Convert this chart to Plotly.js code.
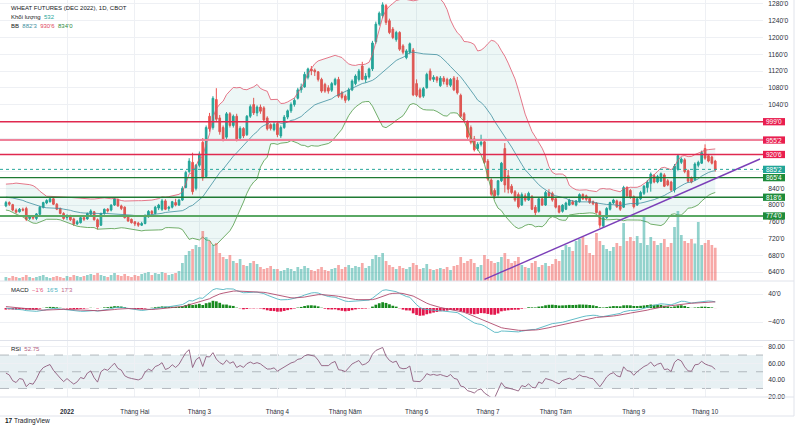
<!DOCTYPE html>
<html><head><meta charset="utf-8">
<script src="https://cdn.plot.ly/plotly-3.0.1.min.js"></script>
<style>html,body{margin:0;padding:0;background:#fff;}#chart{width:801px;height:429px;}</style>
</head><body><div id="chart"></div>
<script>
// closes before the first visible bar (Oct 1 - Dec 6 2021), only used to prime the indicators
const warmCloses = [765,770,768,775,772,778,770,765,772,780,785,782,790,788,795,792,798,795,800,797,803,
  800,805,798,806,812,808,815,820,818,825,830,836,828,832,838,845,840,832,815,808,800,
  795,802,796,800];

const dates = [
 '2021-12-07','2021-12-08','2021-12-09','2021-12-10','2021-12-13','2021-12-14','2021-12-15','2021-12-16','2021-12-17','2021-12-20','2021-12-21','2021-12-22','2021-12-23','2021-12-27','2021-12-28','2021-12-29','2021-12-30','2021-12-31',
 '2022-01-03','2022-01-04','2022-01-05','2022-01-06','2022-01-07','2022-01-10','2022-01-11','2022-01-12','2022-01-13','2022-01-14','2022-01-18','2022-01-19','2022-01-20','2022-01-21','2022-01-24','2022-01-25','2022-01-26','2022-01-27','2022-01-28','2022-01-31',
 '2022-02-01','2022-02-02','2022-02-03','2022-02-04','2022-02-07','2022-02-08','2022-02-09','2022-02-10','2022-02-11','2022-02-14','2022-02-15','2022-02-16','2022-02-17','2022-02-18','2022-02-22','2022-02-23','2022-02-24','2022-02-25','2022-02-28',
 '2022-03-01','2022-03-02','2022-03-03','2022-03-04','2022-03-07','2022-03-08','2022-03-09','2022-03-10','2022-03-11','2022-03-14','2022-03-15','2022-03-16','2022-03-17','2022-03-18','2022-03-21','2022-03-22','2022-03-23','2022-03-24','2022-03-25','2022-03-28','2022-03-29','2022-03-30','2022-03-31',
 '2022-04-01','2022-04-04','2022-04-05','2022-04-06','2022-04-07','2022-04-08','2022-04-11','2022-04-12','2022-04-13','2022-04-14','2022-04-18','2022-04-19','2022-04-20','2022-04-21','2022-04-22','2022-04-25','2022-04-26','2022-04-27','2022-04-28','2022-04-29',
 '2022-05-02','2022-05-03','2022-05-04','2022-05-05','2022-05-06','2022-05-09','2022-05-10','2022-05-11','2022-05-12','2022-05-13','2022-05-16','2022-05-17','2022-05-18','2022-05-19','2022-05-20','2022-05-23','2022-05-24','2022-05-25','2022-05-26','2022-05-27','2022-05-31',
 '2022-06-01','2022-06-02','2022-06-03','2022-06-06','2022-06-07','2022-06-08','2022-06-09','2022-06-10','2022-06-13','2022-06-14','2022-06-15','2022-06-16','2022-06-17','2022-06-21','2022-06-22','2022-06-23','2022-06-24','2022-06-27','2022-06-28','2022-06-29','2022-06-30',
 '2022-07-01','2022-07-05','2022-07-06','2022-07-07','2022-07-08','2022-07-11','2022-07-12','2022-07-13','2022-07-14','2022-07-15','2022-07-18','2022-07-19','2022-07-20','2022-07-21','2022-07-22','2022-07-25','2022-07-26','2022-07-27','2022-07-28','2022-07-29',
 '2022-08-01','2022-08-02','2022-08-03','2022-08-04','2022-08-05','2022-08-08','2022-08-09','2022-08-10','2022-08-11','2022-08-12','2022-08-15','2022-08-16','2022-08-17','2022-08-18','2022-08-19','2022-08-22','2022-08-23','2022-08-24','2022-08-25','2022-08-26','2022-08-29','2022-08-30','2022-08-31',
 '2022-09-01','2022-09-02','2022-09-06','2022-09-07','2022-09-08','2022-09-09','2022-09-12','2022-09-13','2022-09-14','2022-09-15','2022-09-16','2022-09-19','2022-09-20','2022-09-21','2022-09-22','2022-09-23','2022-09-26','2022-09-27','2022-09-28','2022-09-29','2022-09-30',
 '2022-10-03','2022-10-04','2022-10-05','2022-10-06'];

const opens = [
 798,806,801,788,784,790,792,768,772,768,778,795,805,808,815,802,792,780,
 770,775,767,755,758,770,767,778,784,765,752,780,790,788,800,813,798,795,772,766,
 760,757,752,756,772,785,780,793,790,810,792,795,806,800,812,842,880,902,840,
 895,950,868,1012,985,1052,1008,985,962,1018,990,1012,960,983,968,1012,1040,1020,1034,1032,1008,992,980,
 995,965,985,1010,1025,1040,1055,1075,1082,1105,1125,1122,1118,1100,1088,1080,1074,1088,1100,1068,
 1060,1052,1075,1090,1100,1132,1100,1106,1125,1190,1232,1252,1276,1240,1220,1195,1212,1180,1152,1165,1170,
 1090,1075,1060,1080,1120,1100,1105,1085,1103,1100,1086,1103,1098,1062,1018,998,985,958,935,945,951,
 905,860,835,825,858,935,870,845,832,825,800,822,812,820,795,785,815,800,830,828,
 815,798,785,790,800,808,800,808,825,822,816,808,805,784,750,770,790,805,810,807,795,842,835,
 820,800,815,828,842,852,870,855,857,872,858,855,836,885,902,908,882,865,860,895,900,
 935,918,915,905];
const highs = [
 810,809,803,792,793,794,796,776,775,781,798,808,814,818,817,805,794,783,
 778,777,770,764,772,773,782,790,786,768,782,792,793,802,818,816,801,797,775,768,
 762,760,760,778,788,788,798,803,815,814,798,810,815,815,845,882,912,925,898,
 928,960,990,1020,1060,1079,1015,990,1022,1022,1016,1018,988,986,1015,1040,1056,1038,1040,1036,1012,995,998,
 998,990,1015,1028,1045,1055,1080,1090,1118,1128,1132,1126,1120,1104,1092,1086,1094,1104,1106,1072,
 1064,1080,1100,1112,1125,1142,1115,1128,1192,1238,1262,1284,1280,1245,1225,1216,1215,1184,1172,1188,1175,
 1100,1080,1082,1116,1126,1110,1108,1108,1108,1104,1103,1108,1106,1066,1022,1002,990,965,950,968,955,
 910,864,840,860,903,948,884,850,836,830,830,828,832,824,800,818,820,834,838,832,
 818,800,802,808,815,812,812,828,828,825,818,811,807,787,773,795,808,815,813,810,846,845,838,
 823,818,834,848,860,878,874,872,878,876,862,858,898,922,914,912,885,868,902,906,930,
 945,922,918,908];
const lows = [
 795,798,785,780,782,785,762,764,765,764,776,792,802,806,800,788,778,765,
 764,762,750,752,756,762,765,776,763,742,750,777,782,785,798,796,788,768,760,756,
 750,748,750,754,770,776,778,788,786,788,786,792,797,798,810,840,876,825,835,
 890,858,865,975,980,998,968,952,958,985,985,952,955,960,965,1008,1015,1012,1018,1000,978,978,976,
 962,960,982,1005,1020,1035,1052,1068,1080,1100,1110,1108,1095,1068,1068,1066,1070,1085,1056,1052,
 1044,1048,1072,1086,1095,1098,1092,1102,1120,1185,1228,1246,1230,1208,1196,1190,1168,1160,1148,1160,1060,
 1058,1055,1056,1078,1096,1094,1092,1082,1088,1082,1082,1072,1064,1008,998,958,945,928,930,940,898,
 858,822,815,820,855,830,828,826,808,792,798,808,810,788,775,782,798,798,818,808,
 792,780,782,788,798,800,797,806,812,810,803,800,780,745,746,767,787,802,793,786,793,818,815,
 792,798,812,824,830,832,852,852,855,843,845,832,830,882,898,876,853,852,858,890,898,
 908,902,897,880];
const closes = [
 806,802,788,783,790,788,766,772,769,779,795,806,811,815,802,790,780,768,
 775,765,755,760,770,766,780,786,765,748,780,790,786,800,815,798,792,770,762,758,
 755,752,756,775,785,780,795,800,810,790,795,808,800,812,840,878,905,832,895,
 922,865,985,982,1055,1005,975,958,1018,990,1012,958,983,965,1012,1035,1020,1034,1024,1003,982,983,993,
 968,985,1010,1025,1040,1050,1075,1082,1112,1125,1120,1118,1100,1072,1072,1072,1090,1100,1060,1057,
 1050,1075,1096,1108,1120,1100,1108,1125,1187,1232,1258,1278,1236,1212,1200,1212,1172,1165,1168,1185,1063,
 1062,1058,1078,1112,1100,1105,1098,1103,1095,1088,1100,1075,1068,1012,1003,962,950,932,945,950,902,
 862,826,822,858,900,848,838,830,812,796,825,812,828,790,782,815,800,830,822,812,
 795,783,800,805,812,802,810,825,815,814,806,803,782,752,770,792,806,812,796,790,842,822,818,
 796,815,830,845,855,874,855,868,875,845,848,836,893,918,910,880,857,855,898,902,925,
 912,905,900,885.25];
const volumes = [
 64,48,80,64,48,64,96,64,48,64,80,96,64,48,64,80,64,48,
 80,64,96,80,64,80,96,112,96,128,96,80,64,96,128,96,80,112,80,64,
 96,80,112,128,144,96,128,112,144,128,96,112,128,160,288,416,480,512,576,
 544,800,704,640,576,608,448,384,352,416,320,288,352,256,240,288,320,272,224,192,208,240,192,
 192,160,176,208,192,160,224,192,240,208,176,160,192,224,176,160,192,208,256,192,
 224,256,208,240,224,288,208,240,352,416,384,448,320,256,224,192,240,208,192,224,288,
 256,192,208,272,192,176,192,208,192,224,176,240,256,384,288,320,352,288,224,256,416,
 352,320,288,304,384,448,352,288,320,384,256,224,208,288,320,224,256,288,240,272,
 352,320,496,576,544,480,640,672,704,576,448,416,768,640,576,512,480,544,608,560,928,640,704,
 640,720,608,1024,576,704,640,576,608,672,544,608,864,1120,736,640,608,672,600,944,576,
 608,656,576,532];

const tickDates = ['2022-01-03','2022-02-01','2022-03-01','2022-04-01','2022-05-02','2022-06-01','2022-07-01','2022-08-01','2022-09-01','2022-10-03'];
const tickLabels = ['<b>2022</b>','Tháng Hai','Tháng 3','Tháng 4','Tháng Năm','Tháng 6','Tháng 7','Tháng Tám','Tháng 9','Tháng 10'];
const priceTicks = [640,680,720,760,800,840,880,920,960,1000,1040,1080,1120,1160,1200,1240,1280];
const priceTickText = ["640'0","680'0","720'0","760'0","800'0","840'0","","","","","1040'0","1080'0","1120'0","1160'0","1200'0","1240'0","1280'0"];
const macdTicks = [40,-40];
const macdTickText = ["40'0","\u221240'0"];
const rsiTicks = [20,40,60,80];
const rsiTickText = ['20.00','40.00','60.00','80.00'];

const levels = [999, 955.25, 920.75, 865.5, 818.75, 774];
const levelText = ["999'0","955'2","920'6","865'4","818'6","774'0"];
const lastPrice = 885.25, lastPriceText = "885'2";
// trend line anchors: [bar index, price]
const trendX = [141, 222.2];
const trendY = [622.5, 910];

const headerTitle = 'WHEAT FUTURES (DEC 2022), 1D, CBOT';
const volLabel = ['Khối lượng', '532'];
const bbLabel = ["882'3", "930'6", "834'0"];
const macdLabel = ["\u22121'6", "16'5", "17'3"];
const rsiLabel = '52.75';

// ---------- indicators ----------
const W = warmCloses.length;
const allC = warmCloses.concat(closes);
const xs = dates.map((d, i) => i);
const bbMid = [], bbUp = [], bbLo = [];
for (let i = W; i < allC.length; i++) {
  const win = allC.slice(i - 19, i + 1);
  const m = win.reduce((a, b) => a + b, 0) / 20;
  const sd = Math.sqrt(win.reduce((a, b) => a + (b - m) * (b - m), 0) / 20);
  bbMid.push(m); bbUp.push(m + 2 * sd); bbLo.push(m - 2 * sd);
}
function ema(a, n) { const k = 2 / (n + 1); const out = []; let e = a[0];
  for (let i = 0; i < a.length; i++) { e = i === 0 ? a[0] : a[i] * k + e * (1 - k); out.push(e); } return out; }
const e12 = ema(allC, 12), e26 = ema(allC, 26);
const macdAll = e12.map((v, i) => v - e26[i]);
const sigAll = ema(macdAll, 9);
const macd = macdAll.slice(W), sig = sigAll.slice(W);
const hist = macd.map((v, i) => v - sig[i]);
function rsiCalc(c, n) { const out = new Array(c.length).fill(null); let g = 0, l = 0;
  for (let i = 1; i <= n; i++) { const d = c[i] - c[i - 1]; if (d > 0) g += d; else l -= d; }
  g /= n; l /= n; out[n] = 100 - 100 / (1 + g / l);
  for (let i = n + 1; i < c.length; i++) { const d = c[i] - c[i - 1];
    g = (g * (n - 1) + Math.max(d, 0)) / n; l = (l * (n - 1) + Math.max(-d, 0)) / n;
    out[i] = l === 0 ? 100 : 100 - 100 / (1 + g / l); }
  return out; }
const rsi = rsiCalc(allC, 14).slice(W);

// ---------- styling ----------
const UP = '#26a69a', DN = '#ef5350';
const volColors = closes.map((c, i) => c >= opens[i] ? 'rgba(38,166,154,0.5)' : 'rgba(239,83,80,0.5)');
const histColors = hist.map(v => v >= 0 ? '#178a1e' : '#e3164c');

const traces = [
  {type:'scatter', mode:'lines', x:xs, y:bbUp, line:{color:'#e0566c', width:0.8}, hoverinfo:'skip'},
  {type:'scatter', mode:'lines', x:xs, y:bbLo, line:{color:'#4f9a45', width:0.8}, fill:'tonexty', fillcolor:'rgba(0,140,130,0.07)', hoverinfo:'skip'},
  {type:'scatter', mode:'lines', x:xs, y:bbMid, line:{color:'#3f8fa0', width:0.8}, hoverinfo:'skip'},
  {type:'candlestick', x:xs, open:opens, high:highs, low:lows, close:closes,
   increasing:{line:{color:UP, width:1}, fillcolor:UP}, decreasing:{line:{color:DN, width:1}, fillcolor:DN},
   whiskerwidth:0, hoverinfo:'skip'},
  {type:'bar', x:xs, y:volumes, yaxis:'y4', marker:{color:volColors, line:{width:0}}, hoverinfo:'skip'},
  {type:'bar', x:xs, y:hist, yaxis:'y2', marker:{color:histColors, line:{width:0}}, hoverinfo:'skip'},
  {type:'scatter', mode:'lines', x:xs, y:macd, yaxis:'y2', line:{color:'#52b5c2', width:0.9}, hoverinfo:'skip'},
  {type:'scatter', mode:'lines', x:xs, y:sig, yaxis:'y2', line:{color:'#b04a6c', width:0.9}, hoverinfo:'skip'},
  {type:'scatter', mode:'lines', x:xs, y:rsi, yaxis:'y3', line:{color:'#8f5c7e', width:0.9}, hoverinfo:'skip'}
];

const PW = 763; // plot width in px
const PH = 397; // plot height in px
const px2x = p => p / PW;
const py2y = p => (PH - p) / PH;
const jan3 = dates.indexOf('2022-01-03');
const tickvals = tickDates.map(d => dates.indexOf(d));

const levelLine = ['#e0294f','#ef8199','#e0294f','#1f7a33','#1f7a33','#5aa864'];
const levelWidth = [1.4, 2, 1.4, 1.4, 1.4, 2];
const levelBox = ['#e91e4f','#e91e4f','#e91e4f','#1e8c3a','#1e8c3a','#1e8c3a'];
const halfBox = 8.7;

const shapes = [];
const annotations = [];
// RSI band
shapes.push({type:'rect', xref:'paper', yref:'y3', x0:0, x1:1, y0:30, y1:70, fillcolor:'#e7f0f3', line:{width:0}, layer:'below'});
[70,50,30].forEach(v => shapes.push({type:'line', xref:'paper', yref:'y3', x0:0, x1:1, y0:v, y1:v, line:{color:'#a3a9b0', width:0.8, dash:'dash'}, layer:'below'}));
// level lines
levels.forEach((lv, k) => {
  shapes.push({type:'line', xref:'paper', yref:'y', x0:0, x1:1, y0:lv, y1:lv, line:{color:levelLine[k], width:levelWidth[k]}, layer:'above'});
  shapes.push({type:'rect', xref:'paper', yref:'y', x0:1.0, x1:1.0 + 22 / PW, y0:lv - halfBox, y1:lv + halfBox, fillcolor:levelBox[k], line:{width:0}, layer:'above'});
  annotations.push({xref:'paper', yref:'y', x:1.0 + 11 / PW, y:lv, text:levelText[k], showarrow:false, xanchor:'center', yanchor:'middle', font:{size:6.5, color:'#ffffff'}});
});
// last price
shapes.push({type:'line', xref:'paper', yref:'y', x0:0, x1:1, y0:lastPrice, y1:lastPrice, line:{color:'#26a69a', width:1, dash:'dot'}, layer:'above'});
shapes.push({type:'rect', xref:'paper', yref:'y', x0:1.0, x1:1.0 + 22 / PW, y0:lastPrice - halfBox, y1:lastPrice + halfBox, fillcolor:'#22a598', line:{width:0}, layer:'above'});
annotations.push({xref:'paper', yref:'y', x:1.0 + 11 / PW, y:lastPrice, text:lastPriceText, showarrow:false, xanchor:'center', yanchor:'middle', font:{size:6.5, color:'#ffffff'}});
// trend line
shapes.push({type:'line', xref:'x', yref:'y', x0:trendX[0], x1:trendX[1], y0:trendY[0], y1:trendY[1], line:{color:'#7b3fb8', width:1.4}, layer:'above'});
// pane separators and frame
[281, 340.5, 397, 416].forEach(p => shapes.push({type:'line', xref:'paper', yref:'paper', x0:0, x1:794 / PW, y0:py2y(p), y1:py2y(p), line:{color:'#e0e3eb', width:1}, layer:'above'}));
shapes.push({type:'line', xref:'paper', yref:'paper', x0:794 / PW, x1:794 / PW, y0:py2y(416), y1:1, line:{color:'#e0e3eb', width:1}, layer:'above'});

const hx = px2x(9);
const txt = (text, y, size) => ({xref:'paper', yref:'paper', x:hx, y:py2y(y), text, showarrow:false, xanchor:'left', yanchor:'middle', font:{size:size || 6, color:'#131722'}});
annotations.push(txt(headerTitle, 8));
annotations.push(txt(volLabel[0] + '  <span style="color:#26a69a">' + volLabel[1] + '</span>', 17));
annotations.push(txt('BB  <span style="color:#3f8fa0">' + bbLabel[0] + '</span>  <span style="color:#e0455e">' + bbLabel[1] + '</span>  <span style="color:#2e8b3e">' + bbLabel[2] + '</span>', 26));
annotations.push(txt('MACD  <span style="color:#e4557c">' + macdLabel[0] + '</span>  <span style="color:#4fb3bf">' + macdLabel[1] + '</span>  <span style="color:#c0668a">' + macdLabel[2] + '</span>', 290));
annotations.push(txt('RSI  <span style="color:#b0607f">' + rsiLabel + '</span>', 348.5));
annotations.push({xref:'paper', yref:'paper', x:px2x(3), y:py2y(421), text:'<b>17</b> TradingView', showarrow:false, xanchor:'left', yanchor:'middle', font:{size:6.5, color:'#131722'}});

const grid = '#eef0f4';
const yCommon = {side:'right', anchor:'x', showgrid:true, gridcolor:grid, gridwidth:1, zeroline:false, showline:false,
  ticks:'outside', ticklen:3, tickcolor:'rgba(0,0,0,0)', tickfont:{size:6.7, color:'#2a2e39'}, fixedrange:true};

const layout = {
  width:801, height:429,
  margin:{l:0, r:801 - PW, t:0, b:429 - PH},
  paper_bgcolor:'#ffffff', plot_bgcolor:'#ffffff',
  showlegend:false, barmode:'overlay', bargap:0.2,
  font:{family:'Liberation Sans, Arial, DejaVu Sans, sans-serif', size:7, color:'#131722'},
  xaxis:{range:[jan3 - 19.74, jan3 + 205.07], anchor:'y3', tickmode:'array', tickvals, ticktext:tickLabels,
    tickfont:{size:6.3, color:'#2a2e39'}, showgrid:true, gridcolor:grid, gridwidth:1, zeroline:false, showline:false,
    ticks:'outside', ticklen:8, tickcolor:'rgba(0,0,0,0)', rangeslider:{visible:false}, fixedrange:true},
  yaxis:Object.assign({}, yCommon, {domain:[py2y(281), 1], range:[618.8, 1289.5], tickmode:'array', tickvals:priceTicks, ticktext:priceTickText}),
  yaxis2:Object.assign({}, yCommon, {domain:[py2y(340), py2y(282)], range:[-91.4, 74.3], tickmode:'array', tickvals:macdTicks, ticktext:macdTickText}),
  yaxis3:Object.assign({}, yCommon, {domain:[0, py2y(341)], range:[19.8, 86.8], tickmode:'array', tickvals:rsiTicks, ticktext:rsiTickText}),
  yaxis4:{overlaying:'y', anchor:'x', range:[0, 4496], visible:false, fixedrange:true},
  shapes, annotations
};

Plotly.newPlot('chart', traces, layout, {staticPlot:true, displayModeBar:false});
</script>
</body></html>
